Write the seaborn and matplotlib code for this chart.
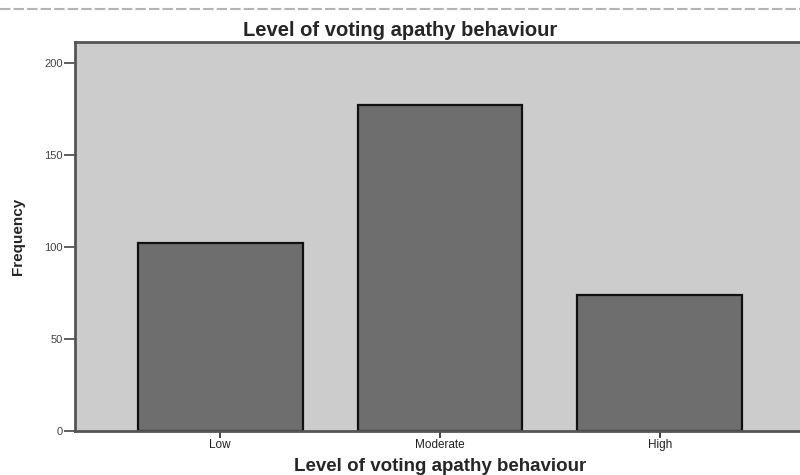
import matplotlib
matplotlib.use("Agg")
import matplotlib.pyplot as plt
from matplotlib.lines import Line2D
import seaborn as sns

# ── Data ─────────────────────────────────────────────────────
categories = ["Low", "Moderate", "High"]
frequencies = [102, 177, 74]
y_ticks = [0, 50, 100, 150, 200]

TITLE = "Level of voting apathy behaviour"

sns.set_style("ticks")
plt.rcParams["font.family"] = ["Liberation Sans", "DejaVu Sans"]

fig = plt.figure(figsize=(8, 4.75), dpi=100)
ax = fig.add_axes([75 / 800, 44 / 475, 730 / 800, 389 / 475])
ax.set_facecolor("#cccccc")

sns.barplot(x=categories, y=frequencies, color="#6e6e6e", saturation=1,
            edgecolor="#111111", linewidth=1.6, width=0.75, ax=ax)

ax.set_xlim(-0.66, 2.66)
ax.set_ylim(0, 211.5)
ax.set_yticks(y_ticks)
ax.set_yticklabels([str(v) for v in y_ticks], fontsize=8, color="#222222")
ax.tick_params(axis="x", labelsize=8.5, length=5, width=1.2, colors="#222222", pad=1)
ax.tick_params(axis="y", length=8, width=1.2, colors="#444444", pad=1)

for side in ["left", "top", "bottom", "right"]:
    ax.spines[side].set_color("#555555")
    ax.spines[side].set_linewidth(2)

ax.set_xlabel(TITLE, fontsize=13.5, fontweight="bold", labelpad=5)
ax.set_ylabel("Frequency", fontsize=11, fontweight="bold", labelpad=14)
ax.grid(False)

# title is centred on the page, not on the plot area
fig.text(0.5, 1 - 30 / 475, TITLE, ha="center", va="center",
         fontsize=14.5, fontweight="bold")

# dashed rule across the top of the page
fig.add_artist(Line2D([0, 1], [1 - 9 / 475, 1 - 9 / 475], transform=fig.transFigure,
                      color="#b4b4b4", lw=1.5, ls=(0, (5, 1.5))))

plt.savefig("out.png", dpi=100)
plt.close()
